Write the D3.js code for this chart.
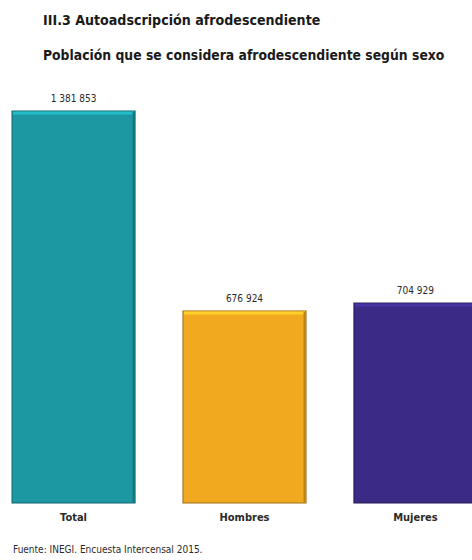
<!DOCTYPE html>
<html>
<head>
<meta charset="utf-8">
<script src="https://cdn.jsdelivr.net/npm/d3@7"></script>
<style>
  html, body { margin: 0; padding: 0; background: #fff; }
  svg { display: block; }
</style>
</head>
<body>
<script>
// Population self-identified as Afro-descendant, by sex (Encuesta Intercensal 2015)
const categories = ["Total", "Hombres", "Mujeres"];
const values = [1381853, 676924, 704929];
const colors = ["#1c98a3", "#f1a920", "#3b2a86"];
const title = "III.3 Autoadscripción afrodescendiente";
const subtitle = "Población que se considera afrodescendiente según sexo";
const source = "Fuente: INEGI. Encuesta Intercensal 2015.";

const W = 472, H = 560;
const svg = d3.select("body").append("svg").attr("width", W).attr("height", H);

const condensed = "'Liberation Sans Narrow', 'DejaVu Sans Condensed', sans-serif";
const fmt = d3.formatLocale({ decimal: ".", thousands: " ", grouping: [3], currency: ["", ""] }).format(",d");

const x = d3.scaleBand().domain(categories).range([12, 477]).paddingInner(0.28).paddingOuter(0);
const y = d3.scaleLinear().domain([0, d3.max(values)]).range([503, 111]);

const data = categories.map((c, i) => ({ c, v: values[i], col: colors[i] }));

// Headings: font size reduced until the line fits its column width
function heading(txt, yPos, size, width) {
  const t = svg.append("text")
    .attr("x", 43).attr("y", yPos)
    .attr("font-family", condensed).attr("font-weight", 700)
    .attr("font-size", size).attr("fill", "#1a1a1a")
    .text(txt);
  const natural = t.node().getComputedTextLength();
  if (natural > width) t.attr("font-size", Math.floor(size * width / natural * 10) / 10);
  return t;
}
heading(title, 25, 17, 279);
heading(subtitle, 60, 19, 402);

// Bars with a bevelled edge
const g = svg.append("g").selectAll("g").data(data).join("g");

g.append("rect")
  .attr("x", d => x(d.c)).attr("y", d => y(d.v))
  .attr("width", x.bandwidth()).attr("height", d => y(0) - y(d.v))
  .attr("fill", d => d.col)
  .attr("stroke", d => d3.color(d.col).darker(1.2))
  .attr("stroke-width", 1);

g.append("rect")
  .attr("x", d => x(d.c) + 1).attr("y", d => y(d.v) + 0.5)
  .attr("width", x.bandwidth() - 2).attr("height", 3)
  .attr("fill", d => d3.color(d.col).brighter(0.6));

g.append("rect")
  .attr("x", d => x(d.c) + x.bandwidth() - 2.5).attr("y", d => y(d.v) + 1)
  .attr("width", 2).attr("height", d => y(0) - y(d.v) - 1.5)
  .attr("fill", d => d3.color(d.col).darker(0.7));

// Value labels
g.append("text")
  .attr("x", d => x(d.c) + x.bandwidth() / 2).attr("y", d => y(d.v) - 9)
  .attr("text-anchor", "middle")
  .attr("font-family", condensed).attr("font-size", 10)
  .attr("fill", "#2a2a2a")
  .text(d => fmt(d.v));

// Category axis labels
const xAxis = d3.axisBottom(x).tickSize(0).tickPadding(10);
const ax = svg.append("g").attr("transform", `translate(0,${y(0)})`).call(xAxis);
ax.select(".domain").remove();
ax.selectAll("text")
  .attr("font-family", condensed).attr("font-size", 11).attr("font-weight", 600)
  .attr("fill", "#2a2a2a");

// Source note
svg.append("text")
  .attr("x", 13).attr("y", 553)
  .attr("font-family", condensed).attr("font-size", 10)
  .attr("fill", "#2a2a2a")
  .text(source);
</script>
</body>
</html>
